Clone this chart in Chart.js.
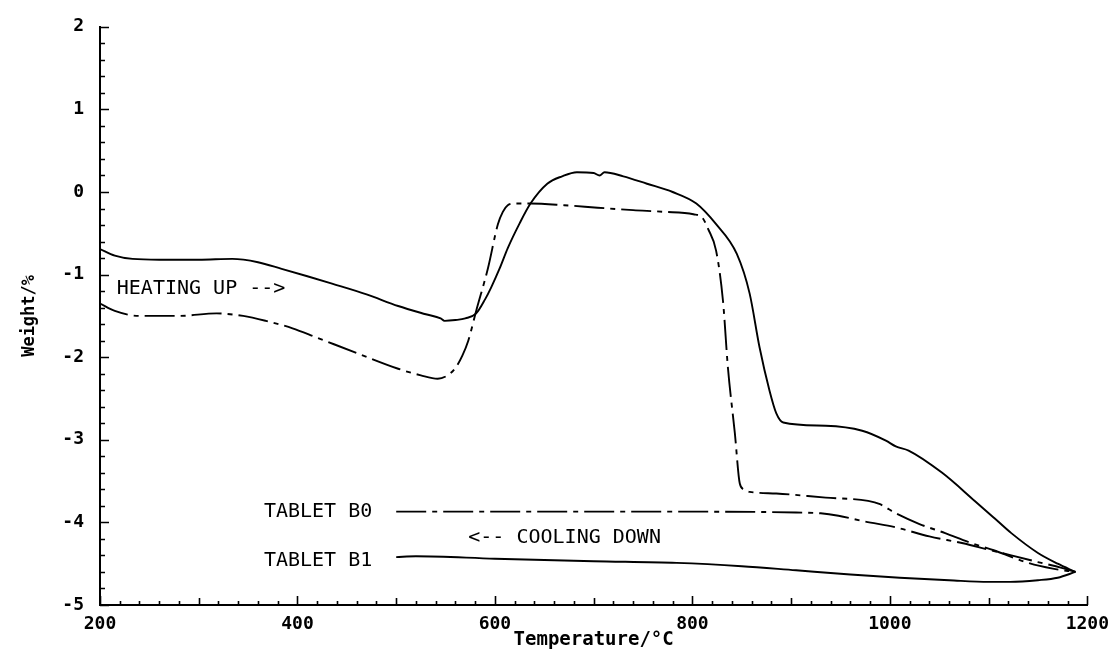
<!DOCTYPE html>
<html>
<head>
<meta charset="utf-8">
<script src="https://cdn.jsdelivr.net/npm/chart.js@4.4.1/dist/chart.umd.min.js"></script>
<style>
    html, body { margin: 0; padding: 0; background: #fff; }
    #wrap { width: 1118px; height: 654px; }
</style>
</head>
<body>
<div id="wrap"><canvas id="tgaChart" width="1118" height="654"></canvas></div>
<script>
// Tablet B1, heating up (solid)
const b1HeatTemp = [200, 215, 233, 260, 300, 334, 360, 384, 410, 435, 470, 502, 530, 545, 549, 560, 570, 581, 590, 596,
    605, 613, 625, 636, 653, 668, 683, 700, 706, 711, 730, 754, 780, 804, 824, 845, 858, 868, 878, 885,
    892, 935, 972, 996, 1006, 1019, 1053, 1086, 1106, 1123, 1150, 1170, 1188];
const b1HeatWeight = [-0.69, -0.77, -0.81, -0.82, -0.82, -0.81, -0.85, -0.93, -1.02, -1.11, -1.24, -1.38, -1.48, -1.53, -1.56, -1.55, -1.53, -1.47, -1.30, -1.16,
    -0.92, -0.68, -0.38, -0.14, 0.10, 0.19, 0.24, 0.23, 0.20, 0.24, 0.19, 0.10, 0.00, -0.14, -0.39, -0.75, -1.23, -1.88, -2.40, -2.68,
    -2.79, -2.83, -2.89, -3.01, -3.08, -3.13, -3.40, -3.74, -3.95, -4.13, -4.37, -4.50, -4.60];

// Tablet B0, heating up (dash-dot)
const b0HeatTemp = [200, 215, 240, 280, 318, 345, 368, 395, 419, 460, 502, 525, 542, 552, 560, 567, 573, 581, 593, 603,
    608, 613, 620, 636, 670, 704, 740, 771, 801, 810, 816, 824, 831, 836, 843, 848, 852, 858, 885, 935,
    978, 990, 1006, 1030, 1056, 1080, 1106, 1140, 1165, 1188];
const b0HeatWeight = [-1.35, -1.44, -1.50, -1.50, -1.47, -1.50, -1.56, -1.65, -1.76, -1.95, -2.14, -2.22, -2.26, -2.22, -2.13, -1.98, -1.80, -1.44, -0.92, -0.39,
    -0.24, -0.16, -0.14, -0.14, -0.16, -0.19, -0.22, -0.24, -0.27, -0.31, -0.45, -0.71, -1.32, -2.13, -2.92, -3.53, -3.60, -3.63, -3.65, -3.70,
    -3.74, -3.78, -3.89, -4.02, -4.13, -4.24, -4.34, -4.49, -4.56, -4.60];

// Tablet B0, cooling down (dash-dot)
const b0CoolTemp = [500, 600, 700, 800, 905, 930, 948, 975, 1006, 1040, 1073, 1100, 1123, 1150, 1174, 1188];
const b0CoolWeight = [-3.87, -3.87, -3.87, -3.87, -3.88, -3.89, -3.92, -3.99, -4.06, -4.17, -4.25, -4.33, -4.40, -4.48, -4.55, -4.60];

// Tablet B1, cooling down (solid)
const b1CoolTemp = [500, 520, 600, 700, 784, 850, 905, 960, 1010, 1060, 1100, 1122, 1150, 1170, 1188];
const b1CoolWeight = [-4.42, -4.41, -4.44, -4.47, -4.49, -4.53, -4.58, -4.63, -4.67, -4.70, -4.72, -4.72, -4.70, -4.67, -4.60];

const xTickLabels = ['200', '400', '600', '800', '1000', '1200'];
const yTickLabels = ['-5', '-4', '-3', '-2', '-1', '0', '1', '2'];

function toPoints(temps, weights) {
    return temps.map((t, i) => ({ x: t, y: weights[i] }));
}

const dashDot = [30, 6, 5, 6];

// inward tick marks like the plotter output
const inwardTicks = {
    id: 'inwardTicks',
    afterDraw(chart) {
        const ctx = chart.ctx;
        const xs = chart.scales.x, ys = chart.scales.y;
        const left = chart.chartArea.left, bottom = chart.chartArea.bottom;
        ctx.save();
        ctx.strokeStyle = '#000';
        ctx.lineWidth = 1.6;
        ctx.beginPath();
        for (let t = 200; t <= 1200; t += 20) {
            const len = t % 200 === 0 ? 9 : (t % 100 === 0 ? 7 : 4);
            const px = Math.round(xs.getPixelForValue(t)) + 0.5;
            ctx.moveTo(px, bottom);
            ctx.lineTo(px, bottom - len);
        }
        for (let i = 0; i <= 35; i++) {
            const v = -5 + i * 0.2;
            const len = i % 5 === 0 ? 9 : 5;
            const py = Math.round(ys.getPixelForValue(v)) + 0.5;
            ctx.moveTo(left, py);
            ctx.lineTo(left + len, py);
        }
        ctx.stroke();
        ctx.restore();
    }
};

// free text written on the plot
const plotNotes = {
    id: 'plotNotes',
    afterDraw(chart) {
        const ctx = chart.ctx;
        const xs = chart.scales.x, ys = chart.scales.y;
        const notes = [
            { text: 'HEATING UP -->', t: 217, w: -1.17 },
            { text: 'TABLET B0', t: 366, w: -3.87 },
            { text: '<-- COOLING DOWN', t: 573, w: -4.19 },
            { text: 'TABLET B1', t: 366, w: -4.47 }
        ];
        ctx.save();
        ctx.fillStyle = '#000';
        ctx.font = '20px "DejaVu Sans Mono"';
        ctx.textAlign = 'left';
        ctx.textBaseline = 'middle';
        notes.forEach(n => {
            ctx.fillText(n.text, xs.getPixelForValue(n.t), ys.getPixelForValue(n.w));
        });
        ctx.restore();
    }
};

const seriesStyle = (color, dash) => ({
    showLine: true,
    borderColor: color,
    borderWidth: 1.9,
    borderDash: dash,
    pointRadius: 0,
    fill: false,
    tension: 0,
    cubicInterpolationMode: 'monotone'
});

const ctx = document.getElementById('tgaChart').getContext('2d');
const tgaChart = new Chart(ctx, {
    type: 'scatter',
    data: {
        datasets: [
            Object.assign({ label: 'Tablet B1 heating', data: toPoints(b1HeatTemp, b1HeatWeight) }, seriesStyle('#000', [])),
            Object.assign({ label: 'Tablet B0 heating', data: toPoints(b0HeatTemp, b0HeatWeight) }, seriesStyle('#000', dashDot)),
            Object.assign({ label: 'Tablet B0 cooling', data: toPoints(b0CoolTemp, b0CoolWeight) }, seriesStyle('#000', dashDot)),
            Object.assign({ label: 'Tablet B1 cooling', data: toPoints(b1CoolTemp, b1CoolWeight) }, seriesStyle('#000', []))
        ]
    },
    options: {
        responsive: false,
        animation: false,
        devicePixelRatio: 1,
        layout: { padding: { top: 25, right: 24, left: 0, bottom: 0 } },
        plugins: {
            legend: { display: false },
            tooltip: { enabled: false }
        },
        scales: {
            x: {
                type: 'linear',
                min: 200,
                max: 1200,
                grid: { display: false, drawTicks: false },
                border: { display: true, color: '#000', width: 2 },
                ticks: {
                    stepSize: 200,
                    padding: 9,
                    color: '#000',
                    maxRotation: 0,
                    font: { family: '"DejaVu Sans Mono"', size: 18, weight: 'bold' },
                    callback: (v) => xTickLabels[Math.round((v - 200) / 200)]
                },
                title: {
                    display: true,
                    text: 'Temperature/°C',
                    color: '#000',
                    font: { family: '"DejaVu Sans Mono"', size: 19, weight: 'bold' },
                    padding: { top: 0, bottom: 3 }
                },
                afterFit: (scale) => { scale.height = 49; }
            },
            y: {
                type: 'linear',
                min: -5,
                max: 2,
                grid: { display: false, drawTicks: false },
                border: { display: true, color: '#000', width: 2 },
                ticks: {
                    stepSize: 1,
                    padding: 16,
                    color: '#000',
                    font: { family: '"DejaVu Sans Mono"', size: 18, weight: 'bold' },
                    callback: (v) => yTickLabels[Math.round(v + 5)]
                },
                title: {
                    display: true,
                    text: 'Weight/%',
                    color: '#000',
                    font: { family: '"DejaVu Sans Mono"', size: 17, weight: 'bold' },
                    padding: { top: 19, bottom: 0 }
                },
                afterFit: (scale) => { scale.width = 100; }
            }
        }
    },
    plugins: [inwardTicks, plotNotes]
});
</script>
</body>
</html>
